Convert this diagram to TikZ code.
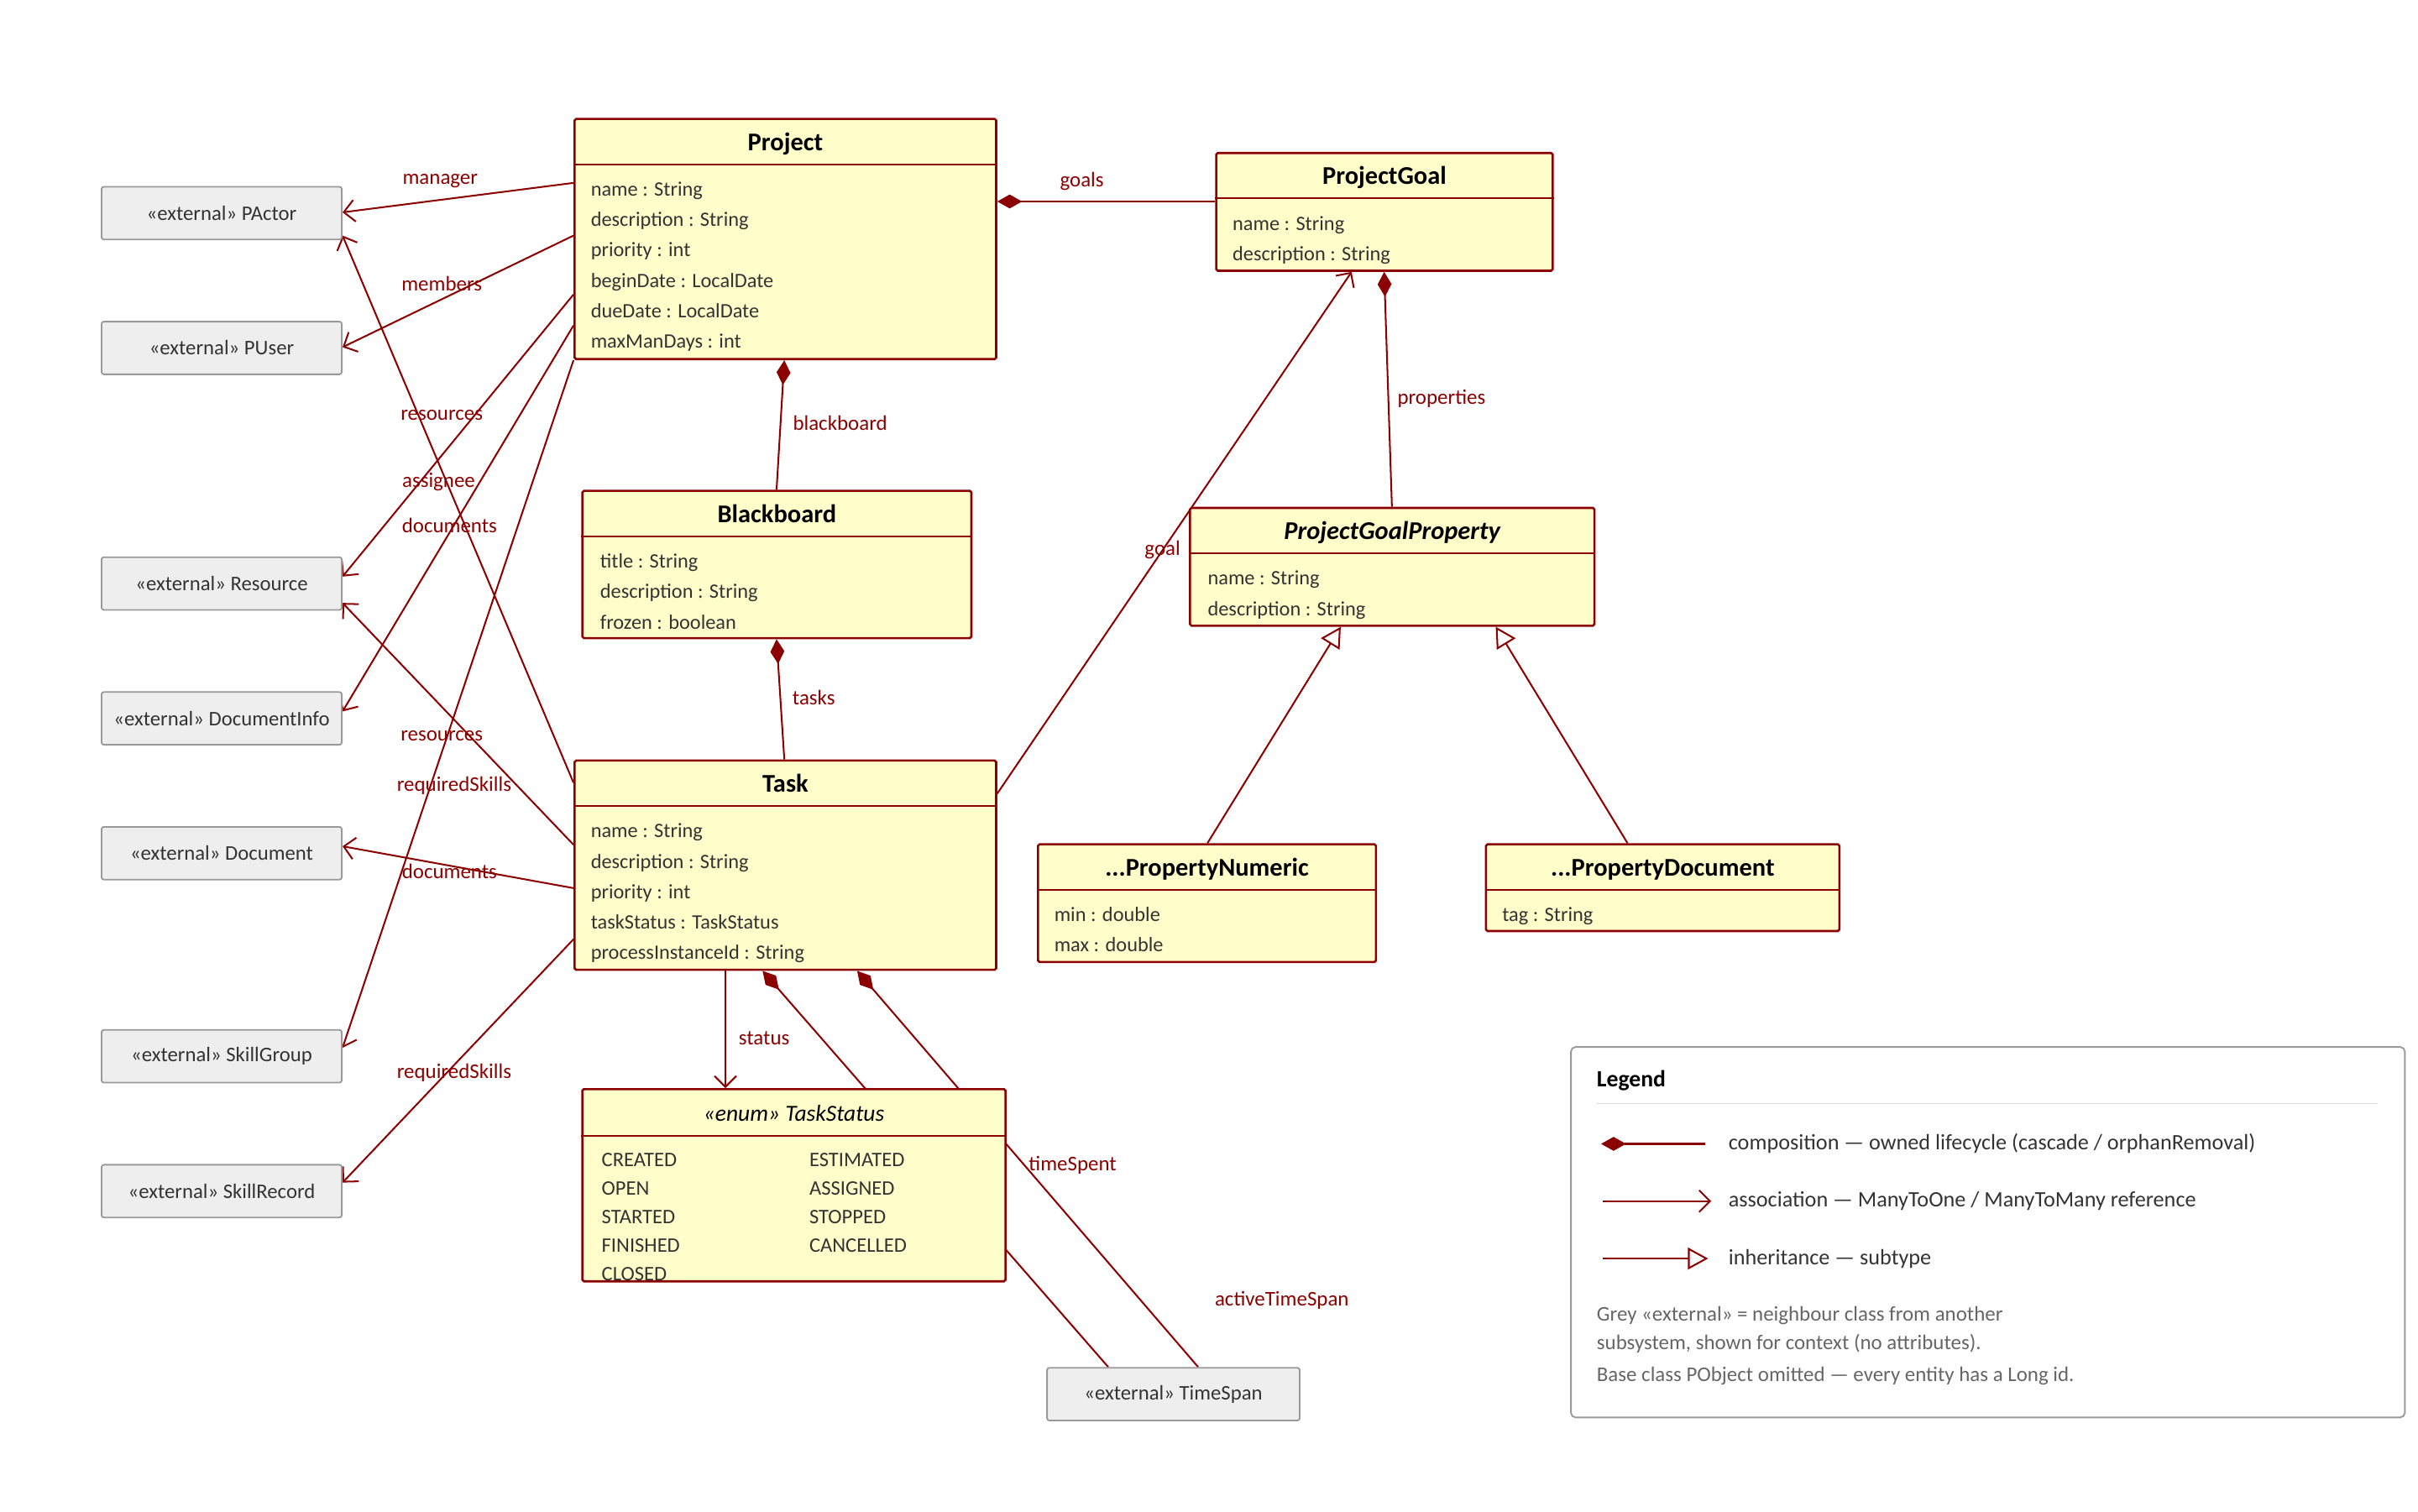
\documentclass[tikz,border=0pt]{standalone}
\usepackage{fontspec}
\setmainfont{Carlito}
\usetikzlibrary{arrows.meta,backgrounds,calc}
\definecolor{dred}{HTML}{8B0000}
\definecolor{cfill}{HTML}{FFFDC9}
\definecolor{xfill}{HTML}{EEEEEE}
\definecolor{xline}{HTML}{999999}
\definecolor{txt}{HTML}{333333}
\begin{document}
\begin{tikzpicture}[x=1pt,y=-1pt,
  cls/.style={draw=dred,line width=1.4pt,fill=cfill,anchor=north west,inner sep=0,rounded corners=1pt},
  ext/.style={draw=xline,line width=1pt,fill=xfill,anchor=north west,inner sep=0,rounded corners=1.5pt},
  extt/.style={font=\fontsize{13.4}{15}\selectfont,text=txt,inner sep=0},
  ttl/.style={font=\fontsize{16.5}{18}\selectfont\bfseries,anchor=base,inner sep=0},
  attr/.style={font=\fontsize{13.2}{15}\selectfont,text=txt,anchor=base west,inner sep=0},
  lbl/.style={font=\fontsize{13.5}{15}\selectfont,text=dred,inner sep=0},
  edge/.style={draw=dred,line width=1.1pt},
  assoc/.style={edge,-{Straight Barb[length=7pt,width=14pt,line width=1.1pt]}},
  comp/.style={edge,{Diamond[length=16pt,width=9pt,fill=dred]}-},
  inh/.style={edge,-{Triangle[open,length=13pt,width=14pt,fill=white,line width=1.1pt]}},
  sep/.style={draw=dred,line width=1.1pt}]
\useasboundingbox (0,0) rectangle (1560,975);
% class boxes
\newcommand\clsbox[6]{% name, x, y, w, h, title
  \node[cls,minimum width=#4pt,minimum height=#5pt] (#1) at (#2,#3) {};
  \draw[sep] ([yshift=-30pt]#1.north west) -- ([yshift=-30pt]#1.north east);
  \node[ttl] (#1-t) at ([yshift=-21pt]#1.north) {#6};}
\newcommand\attrs[3]{% name, xoff, list
  \foreach \t [count=\i] in {#3}
    \node[attr] (#1-a\i) at ([xshift=#2pt,yshift={-50.5pt-(\i-1)*19.6pt}]#1.north west) {\t};}
\clsbox{proj}{370}{76}{272}{155}{Project}
\attrs{proj}{11}{name : String,description : String,priority : int,beginDate : LocalDate,dueDate : LocalDate,maxManDays : int}
\clsbox{goal}{784}{98}{217}{76}{ProjectGoal}
\attrs{goal}{11}{name : String,description : String}
\clsbox{bb}{375}{316}{251}{95}{Blackboard}
\attrs{bb}{12}{title : String,description : String,frozen : boolean}
\clsbox{gp}{767}{327}{261}{76}{\itshape ProjectGoalProperty}
\attrs{gp}{12}{name : String,description : String}
\clsbox{task}{370}{490}{272}{135}{Task}
\attrs{task}{11}{name : String,description : String,priority : int,taskStatus : TaskStatus,processInstanceId : String}
\clsbox{pn}{669}{544}{218}{76}{...PropertyNumeric}
\attrs{pn}{11}{min : double,max : double}
\clsbox{pd}{958}{544}{228}{56}{...PropertyDocument}
\attrs{pd}{11}{tag : String}
% enum
\node[cls,minimum width=273pt,minimum height=124pt] (ts) at (375,702) {};
\draw[sep] ([yshift=-31pt]ts.north west) -- ([yshift=-31pt]ts.north east);
\node[ttl,font=\fontsize{14.9}{16}\selectfont\itshape] (ts-t) at ([yshift=-21.5pt]ts.north) {«enum» TaskStatus};
\begin{scope}
\clip ([xshift=1pt,yshift=1pt]ts.north west) rectangle ([xshift=-1pt,yshift=-1.5pt]ts.south east);
\foreach \t [count=\i] in {CREATED,OPEN,STARTED,FINISHED,CLOSED}
  \node[attr,font=\fontsize{13.3}{15}\selectfont] (ts-l\i) at ([xshift=13pt,yshift={-50.5pt-(\i-1)*18.5pt}]ts.north west) {\t};
\foreach \t [count=\i] in {ESTIMATED,ASSIGNED,STOPPED,CANCELLED}
  \node[attr,font=\fontsize{13.3}{15}\selectfont] (ts-r\i) at ([xshift=147pt,yshift={-50.5pt-(\i-1)*18.5pt}]ts.north west) {\t};
\end{scope}
% externals
\foreach \n/\y in {pactor/120,puser/207,res/359,docinfo/446,doc/533,sg/664,sr/751}
  \node[ext,minimum width=155pt,minimum height=34pt] (\n) at (65,\y) {};
\foreach \n/\t in {pactor/PActor,puser/PUser,res/Resource,docinfo/DocumentInfo,doc/Document,sg/SkillGroup,sr/SkillRecord}
  \node[extt] (\n-t) at (\n.center) {«external» \t};
\node[ext,minimum width=163pt,minimum height=34pt] (tspan) at (675,882) {};
\node[extt] (tspan-t) at (tspan.center) {«external» TimeSpan};
% edges
\begin{scope}[on background layer]
\draw[assoc] ([yshift=-42pt]proj.north west) -- ([yshift=-17pt]pactor.north east);
\draw[assoc] ([yshift=-76pt]proj.north west) -- ([yshift=-17pt]puser.north east);
\draw[assoc] ([yshift=-114pt]proj.north west) -- ([yshift=-13pt]res.north east);
\draw[assoc] ([yshift=-15pt]task.north west) -- ([yshift=-32pt]pactor.north east);
\draw[assoc] ([yshift=-134pt]proj.north west) -- ([yshift=-13pt]docinfo.north east);
\draw[assoc] (proj.south west) -- ([yshift=-12pt]sg.north east);
\draw[assoc] ([yshift=-55pt]task.north west) -- ([yshift=-30pt]res.north east);
\draw[assoc] ([yshift=-83pt]task.north west) -- ([yshift=-13pt]doc.north east);
\draw[assoc] ([yshift=-116pt]task.north west) -- ([yshift=-12pt]sr.north east);
\draw[comp] ([yshift=-54pt]proj.north east) -- ([yshift=-32pt]goal.north west);
\draw[comp] ([xshift=136pt]proj.south west) -- ([xshift=126pt]bb.north west);
\draw[comp] ([xshift=126pt]bb.south west) -- ([xshift=136pt]task.north west);
\draw[comp] ([xshift=109pt]goal.south west) -- ([xshift=131pt]gp.north west);
\draw[assoc] ([yshift=-22pt]task.north east) -- ([xshift=88pt]goal.south west);
\draw[assoc] ([xshift=98pt]task.south west) -- ([xshift=93pt]ts.north west);
\draw[comp] ([xshift=122pt]task.south west) -- ([xshift=40pt]tspan.north west);
\draw[comp] ([xshift=183pt]task.south west) -- ([xshift=98pt]tspan.north west);
\draw[inh] ([xshift=110pt]pn.north west) -- ([xshift=98pt]gp.south west);
\draw[inh] ([xshift=92pt]pd.north west) -- ([xshift=198pt]gp.south west);
\end{scope}
% labels
\node[lbl] (l1) at (284,117) {manager};
\node[lbl] (l2) at (285,183) {members};
\node[lbl] (l3) at (285,268) {resources};
\node[lbl] (l4) at (283,311) {assignee};
\node[lbl] (l5) at (290,339) {documents};
\node[lbl] (l6) at (285,475) {resources};
\node[lbl] (l7) at (293,507) {requiredSkills};
\node[lbl] (l8) at (290,562) {documents};
\node[lbl] (l9) at (293,692) {requiredSkills};
\node[lbl] (l10) at (698,117) {goals};
\node[lbl] (l11) at (542,273) {blackboard};
\node[lbl] (l12) at (525,450) {tasks};
\node[lbl] (l13) at (930,257) {properties};
\node[lbl] (l14) at (750,355) {goal};
\node[lbl] (l15) at (493,670) {status};
\node[lbl] (l16) at (692,752) {timeSpent};
\node[lbl] (l17) at (827,839) {activeTimeSpan};
% legend
\node[draw=xline,line width=1pt,fill=white,rounded corners=3pt,anchor=north west,minimum width=538pt,minimum height=239pt,inner sep=0] (leg) at (1013,675) {};
\node[font=\fontsize{15}{17}\selectfont\bfseries,anchor=base west,inner sep=0] (leg-t) at (1030,701) {Legend};
\draw[draw=black!15,line width=1pt] ([xshift=17pt,yshift=-37pt]leg.north west) -- ([xshift=-18pt,yshift=-37pt]leg.north east);
\coordinate (c1a) at (1033,738); \coordinate (c1b) at (1100,738);
\draw[comp] (c1a) -- (c1b);
\coordinate (c2a) at (1034,775); \coordinate (c2b) at (1104,775);
\draw[assoc] (c2a) -- (c2b);
\coordinate (c3a) at (1034,812); \coordinate (c3b) at (1102,812);
\draw[inh] (c3a) -- (c3b);
\node[attr,anchor=west,font=\fontsize{14.2}{16}\selectfont] (lg1) at (1115,738) {composition — owned lifecycle (cascade / orphanRemoval)};
\node[attr,anchor=west,font=\fontsize{14.2}{16}\selectfont] (lg2) at (1115,775) {association — ManyToOne / ManyToMany reference};
\node[attr,anchor=west,font=\fontsize{14.2}{16}\selectfont] (lg3) at (1115,812) {inheritance — subtype};
\node[attr,anchor=west,font=\fontsize{13.5}{15}\selectfont,text=black!60] (lg4) at (1030,849) {Grey «external» = neighbour class from another};
\node[attr,anchor=west,font=\fontsize{13.5}{15}\selectfont,text=black!60] (lg5) at (1030,867) {subsystem, shown for context (no attributes).};
\node[attr,anchor=west,font=\fontsize{13.5}{15}\selectfont,text=black!60] (lg6) at (1030,888) {Base class PObject omitted — every entity has a Long id.};
\end{tikzpicture}
\end{document}
